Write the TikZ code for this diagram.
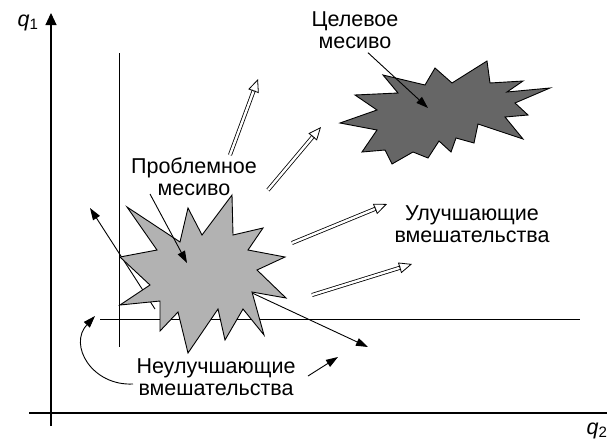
\documentclass[tikz,border=0pt]{standalone}
\usepackage{fontspec}
\setmainfont{Liberation Sans}
\usetikzlibrary{arrows.meta,calc}

\definecolor{probmess}{gray}{0.70}
\definecolor{goalmess}{gray}{0.40}

\tikzset{
  lbl/.style={font=\fontsize{21.5}{22}\selectfont, align=center, inner sep=0pt},
  pointer/.style={line width=0.9pt, -{Triangle[length=12pt,width=8pt]}},
  axisline/.style={line width=1.1pt, -{Triangle[length=12pt,width=11pt]}},
  guide/.style={line width=1pt},
  shaft/.style={double, double distance=2.4pt, line width=0.8pt},
  openhead/.style={line width=0.8pt, -{Triangle[open,length=13pt,width=11pt]}},
  mess/.style={draw, line width=0.9pt, line join=miter},
}

\begin{document}
\begin{tikzpicture}[x=1pt,y=-1pt]
  \useasboundingbox (0,0) rectangle (607,440);

  % Axes
  \coordinate (ybot) at (51,426);
  \coordinate (ytop) at (51,13);
  \coordinate (xleft) at (29,413);
  \coordinate (xright) at (619,413);
  \draw[axisline] (ybot) -- (ytop);
  \draw[axisline] (xleft) -- (xright);
  \node[lbl] (q1) at (28,23) {\textit{q}\textsubscript{1}};
  \node[lbl] (q2) at (597,431) {\textit{q}\textsubscript{2}};

  % Thresholds
  \coordinate (vtop) at (119,53);
  \coordinate (vbot) at (119,347);
  \coordinate (hleft) at (100,319);
  \coordinate (hright) at (580,319);
  \draw[guide] (vtop) -- (vbot);
  \draw[guide] (hleft) -- (hright);

  % Worsening moves (start hidden under the mess)
  \coordinate (w1s) at (155,309);
  \coordinate (w1e) at (90,208);
  \coordinate (w2s) at (235,285);
  \coordinate (w2e) at (368,347);
  \draw[pointer] (w1s) -- (w1e);
  \draw[pointer] (w2s) -- (w2e);

  % Problem mess
  \draw[mess, fill=probmess]
    (232,195) -- (233,235) -- (263,228) -- (248,250) -- (285,257)
    -- (257,270) -- (286,298) -- (252,292) -- (264,335) -- (243,309)
    -- (225,340) -- (218,309) -- (188,353) -- (178,312) -- (160,331)
    -- (160,301) -- (120,305) -- (150,285) -- (120,257) -- (157,250)
    -- (127,207) -- (180,242) -- (188,208) -- (202,235) -- cycle;

  % Goal mess
  \draw[mess, fill=goalmess]
    (487,61) -- (490,83) -- (523,81) -- (507,92) -- (550,88)
    -- (515,103) -- (528,115) -- (505,117) -- (523,139) -- (478,124)
    -- (474,143) -- (456,138) -- (451,152) -- (439,141) -- (428,158)
    -- (413,152) -- (392,164) -- (385,150) -- (362,152) -- (377,130)
    -- (340,123) -- (377,110) -- (355,95) -- (398,93) -- (383,75)
    -- (425,85) -- (435,68) -- (452,83) -- cycle;

  % Labels
  \node[lbl] (goal) at (355,30) {Целевое\\месиво};
  \node[lbl] (prob) at (194,177) {Проблемное\\месиво};
  \node[lbl] (impr) at (472,224) {Улучшающие\\вмешательства};
  \node[lbl] (nonimpr) at (216,377) {Неулучшающие\\вмешательства};

  % Pointers from labels
  \coordinate (gp) at (428,108);
  \coordinate (pp) at (187,263);
  \draw[pointer] ($(goal.south)+(13,4)$) -- (gp);
  \draw[pointer] (150,194) -- (pp);
  \coordinate (n1s) at (133,384);
  \coordinate (n1e) at (95,316);
  \draw[pointer] (n1s) .. controls (92,386) and (68,345) .. (n1e);
  \coordinate (n2s) at (308,376);
  \coordinate (n2e) at (338,357);
  \draw[pointer] (n2s) -- (n2e);

  % Improving moves
  \coordinate (a1) at (230,155); \coordinate (b1) at (258,79);
  \coordinate (a2) at (268,190); \coordinate (b2) at (321,127);
  \coordinate (a3) at (292,243); \coordinate (b3) at (387,204);
  \coordinate (a4) at (312,295); \coordinate (b4) at (412,264);
  \foreach \s/\e in {a1/b1, a2/b2, a3/b3, a4/b4} {
    \draw[shaft] (\s) -- ($(\e)!12pt!(\s)$);
    \draw[openhead] ($(\e)!13pt!(\s)$) -- (\e);
  }
\end{tikzpicture}
\end{document}
